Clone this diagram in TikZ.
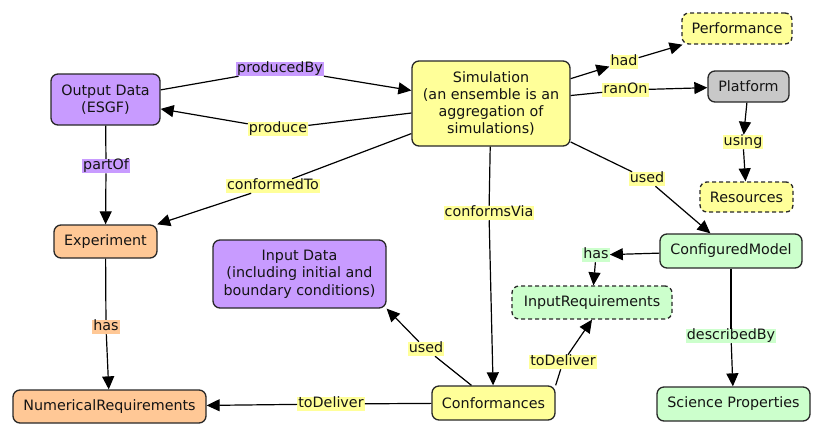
\documentclass[tikz,border=0pt]{standalone}
\usepackage{fontspec}
\setmainfont{DejaVu Sans}
\usetikzlibrary{arrows.meta}
\definecolor{cyel}{RGB}{255,255,153}
\definecolor{cpur}{RGB}{200,155,255}
\definecolor{cora}{RGB}{255,200,150}
\definecolor{cgrn}{RGB}{204,255,204}
\definecolor{cgry}{RGB}{200,200,200}
\definecolor{cbrd}{RGB}{40,40,40}
\definecolor{ctxt}{RGB}{20,20,20}
\tikzset{
  box/.style={draw=cbrd, line width=1.3pt, rounded corners=7pt, align=center, inner sep=0pt,
    text=ctxt, font=\fontsize{14.3}{17.3}\selectfont},
  dbox/.style={box, dashed, dash pattern=on 4pt off 3pt},
  lbl/.style={inner xsep=1pt, inner ysep=0pt, text height=10.8pt, text depth=3.3pt,
    text=ctxt, font=\fontsize{14.3}{17.3}\selectfont},
  conn/.style={line width=1.2pt, draw=black},
  arr/.style={conn, -{Triangle[length=13pt,width=12pt]}}
}
\begin{document}
\begin{tikzpicture}[x=1pt,y=-1pt]
\useasboundingbox (0,0) rectangle (824,437);
% nodes
\node[box, fill=cpur, minimum width=109pt, minimum height=51pt] (out) at (105.5,99.5) {Output Data\\(ESGF)};
\node[box, fill=cyel, minimum width=158pt, minimum height=85pt] (sim) at (491,103.5) {Simulation\\(an ensemble is an\\aggregation of\\simulations)};
\node[dbox, fill=cyel, minimum width=110pt, minimum height=31pt] (perf) at (737,28.5) {Performance};
\node[box, fill=cgry, minimum width=81pt, minimum height=31pt] (plat) at (748.5,86.5) {Platform};
\node[dbox, fill=cyel, minimum width=93pt, minimum height=30pt] (res) at (746.5,197) {Resources};
\node[box, fill=cora, minimum width=103pt, minimum height=33pt] (exp) at (105.5,241.5) {Experiment};
\node[box, fill=cpur, minimum width=173pt, minimum height=68pt] (idata) at (299.5,274) {Input Data\\(including initial and\\boundary conditions)};
\node[box, fill=cgrn, minimum width=142pt, minimum height=34pt] (cm) at (731,251) {ConfiguredModel};
\node[dbox, fill=cgrn, minimum width=160pt, minimum height=33pt] (ireq) at (592,302.5) {InputRequirements};
\node[box, fill=cora, minimum width=193pt, minimum height=33pt] (numreq) at (109.5,406.5) {NumericalRequirements};
\node[box, fill=cyel, minimum width=123pt, minimum height=34pt] (conf) at (493.5,403) {Conformances};
\node[box, fill=cgrn, minimum width=153pt, minimum height=34pt] (sci) at (733.5,404) {Science Properties};
% labels
\node[lbl, fill=cpur] (lprodby) at (280,69) {producedBy};
\node[lbl, fill=cyel] (lprod) at (278,129) {produce};
\node[lbl, fill=cpur] (lpart) at (106,166) {partOf};
\node[lbl, fill=cyel] (lconfto) at (273,186) {conformedTo};
\node[lbl, fill=cyel] (lhad) at (624,62) {had};
\node[lbl, fill=cyel] (lran) at (625.5,90) {ranOn};
\node[lbl, fill=cyel] (lusing) at (743,142) {using};
\node[lbl, fill=cyel] (lused) at (647,179) {used};
\node[lbl, fill=cyel] (lcvia) at (489,213) {conformsVia};
\node[lbl, fill=cgrn] (lhasg) at (596,255) {has};
\node[lbl, fill=cgrn] (ldesc) at (731,336) {describedBy};
\node[lbl, fill=cora] (lhaso) at (106,327) {has};
\node[lbl, fill=cyel] (lused2) at (426,349) {used};
\node[lbl, fill=cyel] (ltd1) at (563,362) {toDeliver};
\node[lbl, fill=cyel] (ltd2) at (331,404) {toDeliver};
% connectors
\draw[conn] (out) -- (lprodby); \draw[arr] (lprodby) -- (sim);
\draw[conn] (sim) -- (lprod); \draw[arr] (lprod) -- (out);
\draw[conn] (out) -- (lpart); \draw[arr] (lpart) -- (exp);
\draw[conn] (sim) -- (lconfto); \draw[arr] (lconfto) -- (exp);
\draw[arr] (sim) -- (lhad); \draw[arr] (lhad) -- (perf);
\draw[conn] (sim) -- (lran); \draw[arr] (lran) -- (plat);
\draw[arr] (plat) -- (lusing); \draw[arr] (lusing) -- (res);
\draw[conn] (sim) -- (lused); \draw[arr] (lused) -- (cm);
\draw[conn] (sim) -- (lcvia); \draw[arr] (lcvia) -- (conf);
\draw[arr] (cm) -- (lhasg); \draw[arr] (lhasg) -- (ireq);
\draw[conn] (cm) -- (ldesc); \draw[arr] (ldesc) -- (sci);
\draw[conn] (exp) -- (lhaso); \draw[arr] (lhaso) -- (numreq);
\draw[conn] (conf) -- (lused2); \draw[arr] (lused2) -- (idata.south east);
\draw[conn] (conf.north east) -- (ltd1); \draw[arr] (ltd1) -- (ireq.south);
\draw[conn] (conf) -- (ltd2); \draw[arr] (ltd2) -- (numreq);
\end{tikzpicture}
\end{document}
